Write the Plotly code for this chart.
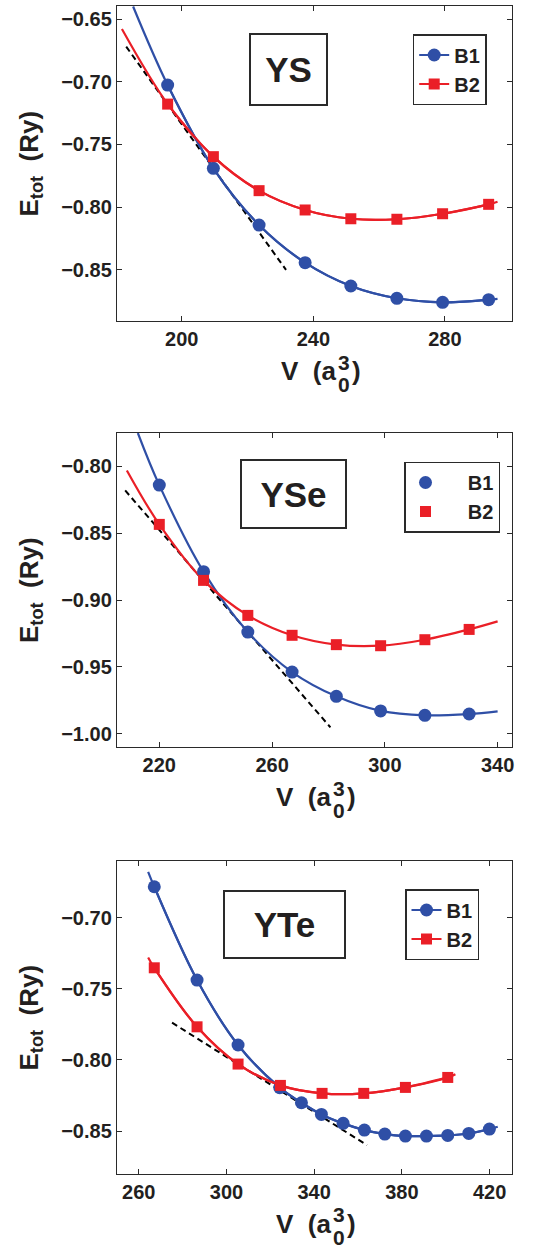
import plotly.graph_objects as go

# ---------------- data ----------------
# YS
ys_v = [195.7, 209.6, 223.5, 237.5, 251.4, 265.4, 279.3, 293.3]
ys_b1 = [-0.7026, -0.7690, -0.8142, -0.8442, -0.8628, -0.8726, -0.8758, -0.8737]
ys_b2 = [-0.7178, -0.7597, -0.7868, -0.8022, -0.8092, -0.8096, -0.8052, -0.7977]
ys_b1_fit_ends_v = [185.2, 296.0]
ys_b1_fit_ends_e = [-0.6400, -0.8731]
ys_b2_fit_ends_v = [181.8, 296.0]
ys_b2_fit_ends_e = [-0.6580, -0.7956]
ys_tangent_v = [183.1, 231.7]
ys_tangent_e = [-0.672, -0.850]

# YSe
yse_v = [220.0, 235.7, 251.4, 267.1, 282.8, 298.5, 314.2, 329.9]
yse_b1 = [-0.8140, -0.8788, -0.9240, -0.9539, -0.9721, -0.9830, -0.9863, -0.9853]
yse_b2 = [-0.8434, -0.8853, -0.9115, -0.9264, -0.9334, -0.9342, -0.9297, -0.9220]
yse_b1_fit_ends_v = [212.4, 340.0]
yse_b1_fit_ends_e = [-0.7750, -0.9833]
yse_b2_fit_ends_v = [208.5, 340.0]
yse_b2_fit_ends_e = [-0.8030, -0.9160]
yse_tangent_v = [207.9, 280.7]
yse_tangent_e = [-0.818, -0.9953]

# YTe
yte_v_b1 = [267.1, 286.6, 305.3, 324.3, 334.2, 343.3, 353.2, 362.9, 372.2, 381.6, 391.2, 400.9, 410.5, 419.9]
yte_b1 = [-0.6782, -0.7438, -0.7895, -0.8195, -0.8301, -0.8383, -0.8446, -0.8493, -0.8521, -0.8535,
          -0.8535, -0.8531, -0.8517, -0.8486]
yte_v_b2 = [267.1, 286.6, 305.3, 324.6, 343.6, 362.6, 381.6, 400.9]
yte_b2 = [-0.7352, -0.7767, -0.8029, -0.8179, -0.8235, -0.8235, -0.8193, -0.8123]
yte_b1_fit_ends_v = [264.3, 423.7]
yte_b1_fit_ends_e = [-0.6677, -0.8470]
yte_b2_fit_ends_v = [264.3, 404.4]
yte_b2_fit_ends_e = [-0.7279, -0.8100]
yte_tangent_v = [275.2, 364.1]
yte_tangent_e = [-0.7738, -0.8599]

compounds = ["YS", "YSe", "YTe"]
series_names = ["B1", "B2"]
x_ticks = [[200, 240, 280], [220, 260, 300, 340], [260, 300, 340, 380, 420]]
y_ticks = [[-0.85, -0.80, -0.75, -0.70, -0.65],
           [-1.00, -0.95, -0.90, -0.85, -0.80],
           [-0.85, -0.80, -0.75, -0.70]]

# ---------------- style ----------------
W, H = 533, 1249
ML, MR, MT, MB = 117, 21, 6, 75
PW, PH = W - ML - MR, H - MT - MB
BLUE = "#2F4FA6"
RED = "#EA1F27"
TXT = "#231F20"
AX = "#2a2a2a"
FONT = "Liberation Sans, Arial, Helvetica, sans-serif"


def px_x(p):
    return (p - ML) / PW


def px_y(p):
    return (H - MB - p) / PH


panels = [
    dict(top=6, bottom=321, xr=[180.3, 300.4], yr=[-0.8907, -0.6396],
         b1=(ys_v, ys_b1, ys_b1_fit_ends_v, ys_b1_fit_ends_e),
         b2=(ys_v, ys_b2, ys_b2_fit_ends_v, ys_b2_fit_ends_e),
         tan=(ys_tangent_v, ys_tangent_e), leg_lines=True,
         box=(249, 328, 33, 106), leg=(412.7, 34), xt_right=338),
    dict(top=433, bottom=747, xr=[205.0, 345.1], yr=[-1.0100, -0.7750],
         b1=(yse_v, yse_b1, yse_b1_fit_ends_v, yse_b1_fit_ends_e),
         b2=(yse_v, yse_b2, yse_b2_fit_ends_v, yse_b2_fit_ends_e),
         tan=(yse_tangent_v, yse_tangent_e), leg_lines=False,
         box=(240, 347, 459, 529), leg=(404, 461.5), xt_right=333),
    dict(top=861, bottom=1174, xr=[250.1, 430.2], yr=[-0.8802, -0.6601],
         b1=(yte_v_b1, yte_b1, yte_b1_fit_ends_v, yte_b1_fit_ends_e),
         b2=(yte_v_b2, yte_b2, yte_b2_fit_ends_v, yte_b2_fit_ends_e),
         tan=(yte_tangent_v, yte_tangent_e), leg_lines=True,
         box=(223, 346, 890, 959), leg=(405, 889), xt_right=333),
]

fig = go.Figure()
annotations = []
layout = {}

for i, p in enumerate(panels):
    sfx = "" if i == 0 else str(i + 1)
    xa, ya = "x" + sfx, "y" + sfx
    legname = "legend" + sfx
    # tangent line
    fig.add_trace(go.Scatter(x=p["tan"][0], y=p["tan"][1], mode="lines", xaxis=xa, yaxis=ya,
                             line=dict(color="black", width=2, dash="6px,4px"),
                             showlegend=False, hoverinfo="skip"))
    for key, color in (("b1", BLUE), ("b2", RED)):
        v, e, ev, ee = p[key]
        curve_v = [ev[0]] + list(v) + [ev[1]]
        curve_e = [ee[0]] + list(e) + [ee[1]]
        fig.add_trace(go.Scatter(x=curve_v, y=curve_e, mode="lines", xaxis=xa, yaxis=ya,
                                 line=dict(color=color, width=2.2, shape="spline", smoothing=1.0),
                                 showlegend=False, hoverinfo="skip"))
    for key, color, sym, size, name in (("b1", BLUE, "circle", 13, series_names[0]),
                                        ("b2", RED, "square", 11, series_names[1])):
        v, e, ev, ee = p[key]
        label = name if p["leg_lines"] else "&nbsp;&nbsp;&nbsp;&nbsp;" + name
        fig.add_trace(go.Scatter(x=v, y=e, xaxis=xa, yaxis=ya, name=label,
                                 mode="lines+markers" if p["leg_lines"] else "markers",
                                 line=dict(color=color, width=2.2, shape="spline", smoothing=1.0),
                                 marker=dict(color=color, symbol=sym, size=size),
                                 legend=legname, showlegend=True))
    dom_y = [px_y(p["bottom"]), px_y(p["top"])]
    axcommon = dict(showgrid=False, zeroline=False, showline=True, linecolor=AX, linewidth=1.4,
                    mirror="ticks", ticks="inside", ticklen=5, tickwidth=1.2, tickcolor=AX,
                    tickfont=dict(family=FONT, size=20, color=TXT, weight="bold"))
    layout["xaxis" + sfx] = dict(axcommon, domain=[0, 1], range=p["xr"], anchor=ya,
                                 tickvals=x_ticks[i], ticklabelstandoff=0)
    layout["yaxis" + sfx] = dict(axcommon, domain=dom_y, range=p["yr"], anchor=xa,
                                 tickvals=y_ticks[i], tickformat=".2f", ticklabelstandoff=0)
    layout[legname] = dict(x=px_x(p["leg"][0]), y=px_y(p["leg"][1]), xanchor="left", yanchor="top",
                           bgcolor="white", bordercolor=AX, borderwidth=1.5,
                           font=dict(family=FONT, size=20, color=TXT, weight="bold"),
                           itemwidth=30)
    # compound label box
    bx0, bx1, by0, by1 = p["box"]
    annotations.append(dict(xref="paper", yref="paper", x=px_x((bx0 + bx1) / 2), y=px_y((by0 + by1) / 2),
                            xanchor="center", yanchor="middle", text="<b>%s</b>" % compounds[i],
                            showarrow=False, font=dict(family=FONT, size=35, color=TXT),
                            width=bx1 - bx0 - 4, height=by1 - by0 - 4, borderpad=0,
                            bordercolor=AX, borderwidth=2, bgcolor="white"))
    # y title
    annotations.append(dict(xref="paper", yref="paper", x=px_x(30), y=px_y((p["top"] + p["bottom"]) / 2),
                            xanchor="center", yanchor="middle", textangle=-90, showarrow=False,
                            text="<b>E<sub>tot</sub>  (Ry)</b>",
                            font=dict(family=FONT, size=26, color=TXT)))
    # x title pieces
    xr_ = p["xt_right"]
    b = p["bottom"]
    annotations.append(dict(xref="paper", yref="paper", x=px_x(xr_), y=px_y(b + 50),
                            xanchor="right", yanchor="middle", showarrow=False,
                            text="<b>V  (a</b>", font=dict(family=FONT, size=26, color=TXT)))
    annotations.append(dict(xref="paper", yref="paper", x=px_x(xr_ + 6), y=px_y(b + 41),
                            xanchor="center", yanchor="middle", showarrow=False,
                            text="<b>3</b>", font=dict(family=FONT, size=21, color=TXT)))
    annotations.append(dict(xref="paper", yref="paper", x=px_x(xr_ + 6), y=px_y(b + 63),
                            xanchor="center", yanchor="middle", showarrow=False,
                            text="<b>0</b>", font=dict(family=FONT, size=21, color=TXT)))
    annotations.append(dict(xref="paper", yref="paper", x=px_x(xr_ + 12), y=px_y(b + 50),
                            xanchor="left", yanchor="middle", showarrow=False,
                            text="<b>)</b>", font=dict(family=FONT, size=26, color=TXT)))

fig.update_layout(width=W, height=H, margin=dict(l=ML, r=MR, t=MT, b=MB),
                  paper_bgcolor="white", plot_bgcolor="white",
                  annotations=annotations, **layout)

fig.write_html("out.html", config={"displayModeBar": False},
               post_script="document.body.style.margin='0';document.body.style.overflow='hidden';")
